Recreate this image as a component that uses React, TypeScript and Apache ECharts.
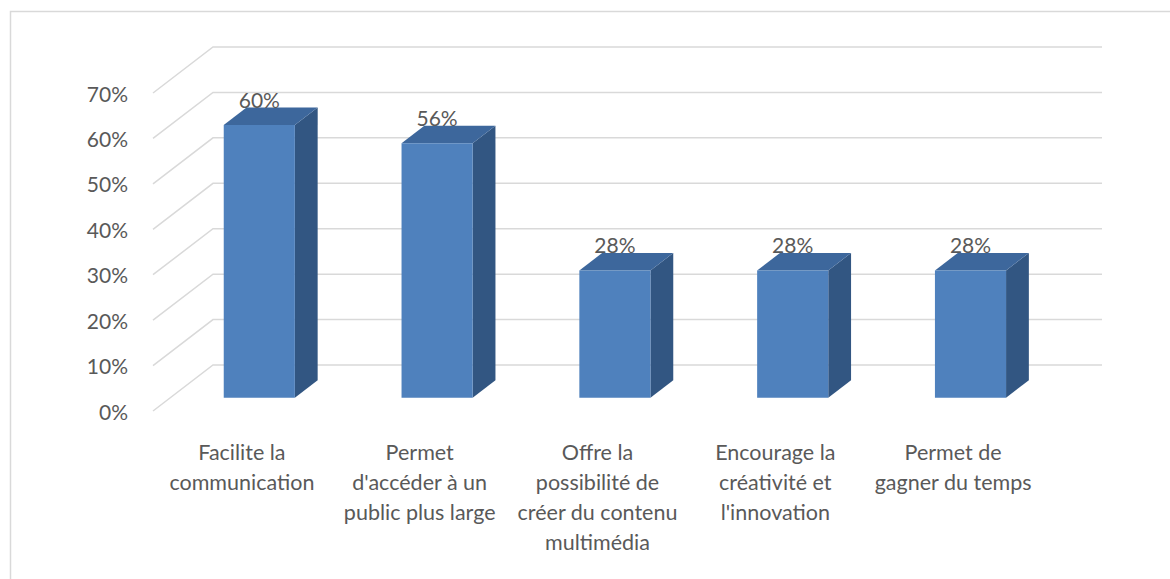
import React, { useEffect, useRef } from "react";
import * as echarts from "echarts";

const categories = [
  "Facilite la\ncommunication",
  "Permet\nd'accéder à un\npublic plus large",
  "Offre la\npossibilité de\ncréer du contenu\nmultimédia",
  "Encourage la\ncréativité et\nl'innovation",
  "Permet de\ngagner du temps",
];
const values = [0.6, 0.56, 0.28, 0.28, 0.28];
const yTicks = [0, 0.1, 0.2, 0.3, 0.4, 0.5, 0.6, 0.7];

const DX = 60;
const DY = 46;
const F1 = 0.29;
const F2 = 0.67;
const FONT = "Lato, 'Noto Sans', sans-serif";
const TEXT = "#595959";

export default function App() {
  const ref = useRef<HTMLDivElement>(null);
  useEffect(() => {
    const chart = echarts.init(ref.current!, null, { renderer: "svg" });
    chart.setOption({
      animation: false,
      backgroundColor: "#fff",
      textStyle: { fontFamily: FONT },
      graphic: [
        {
          type: "rect",
          shape: { x: 10.5, y: 11.5, width: 1300, height: 700 },
          style: { fill: "none", stroke: "#d9d9d9", lineWidth: 1.5 },
          silent: true,
          z: -10,
        },
      ],
      grid: { left: 153, top: 93, width: 889, height: 318, containLabel: false },
      xAxis: {
        type: "category",
        data: categories,
        axisLine: { show: false },
        axisTick: { show: false },
        axisLabel: {
          color: TEXT,
          fontSize: 21.5,
          fontFamily: FONT,
          lineHeight: 30,
          margin: 26,
          interval: 0,
          align: "center",
        },
      },
      yAxis: {
        type: "value",
        min: 0,
        max: 0.7,
        interval: 0.1,
        axisLine: { show: false },
        axisTick: { show: false },
        splitLine: { show: false },
        axisLabel: {
          color: TEXT,
          fontSize: 21,
          fontFamily: FONT,
          margin: 25,
          formatter: (v: number) => Math.round(v * 100) + "%",
        },
      },
      series: [
        {
          type: "custom",
          silent: true,
          z: 1,
          data: yTicks.map((t) => [0, t]),
          renderItem: (params: any, api: any) => {
            const cs = params.coordSys;
            const y = api.coord([0, api.value(1)])[1];
            return {
              type: "polyline",
              shape: {
                points: [
                  [cs.x, y],
                  [cs.x + DX, y - DY],
                  [cs.x + cs.width + DX, y - DY],
                ],
              },
              style: { stroke: "#d9d9d9", lineWidth: 1.5, fill: "none" },
            };
          },
        },
        {
          type: "custom",
          z: 2,
          data: values.map((v, i) => [i, v]),
          renderItem: (params: any, api: any) => {
            const i = api.value(0);
            const v = api.value(1);
            const base = api.coord([i, 0]);
            const top = api.coord([i, v]);
            const bw = api.size([1, 0])[0] * 0.4;
            const x0 = base[0] - bw / 2 + F1 * DX;
            const yB = base[1] - F1 * DY;
            const yT = top[1] - F1 * DY;
            const ddx = (F2 - F1) * DX;
            const ddy = (F2 - F1) * DY;
            return {
              type: "group",
              children: [
                {
                  type: "polygon",
                  shape: {
                    points: [
                      [x0 + bw, yT],
                      [x0 + bw + ddx, yT - ddy],
                      [x0 + bw + ddx, yB - ddy],
                      [x0 + bw, yB],
                    ],
                  },
                  style: { fill: "#325682" },
                },
                {
                  type: "polygon",
                  shape: {
                    points: [
                      [x0, yT],
                      [x0 + ddx, yT - ddy],
                      [x0 + bw + ddx, yT - ddy],
                      [x0 + bw, yT],
                    ],
                  },
                  style: { fill: "#3d679c" },
                },
                {
                  type: "rect",
                  shape: { x: x0, y: yT, width: bw, height: yB - yT },
                  style: { fill: "#4f81bd" },
                },
                {
                  type: "text",
                  x: x0 + bw / 2,
                  y: yT - 26,
                  style: {
                    text: Math.round(v * 100) + "%",
                    fill: TEXT,
                    font: "21px " + FONT,
                    align: "center",
                    verticalAlign: "middle",
                  },
                },
              ],
            };
          },
        },
      ],
    });
    return () => chart.dispose();
  }, []);
  return (
    <div
      ref={ref}
      style={{ position: "fixed", left: 0, top: 0, width: 1170, height: 579 }}
    />
  );
}
